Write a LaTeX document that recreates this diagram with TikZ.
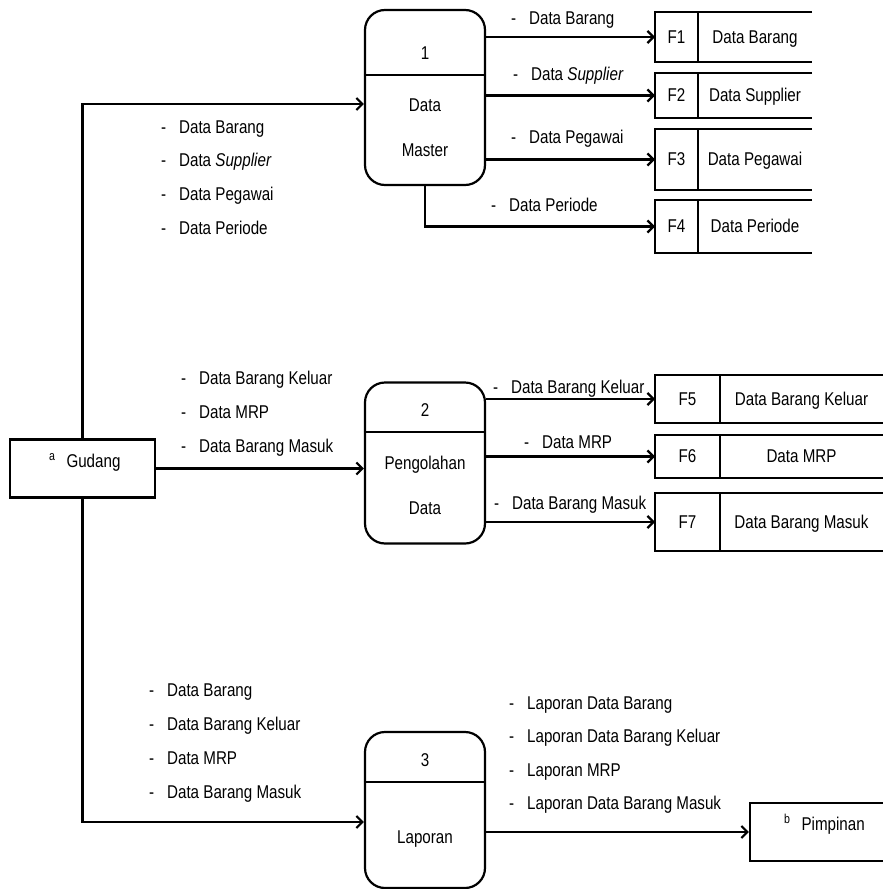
\documentclass[tikz,border=0pt]{standalone}
\usepackage{fontspec}
\setmainfont{Liberation Sans}[FakeStretch=0.82]
\usetikzlibrary{arrows.meta}
\newcommand{\itm}[1]{-\hspace{13pt}#1}

\begin{document}
\begin{tikzpicture}[x=1pt,y=-1pt,line width=2.2pt,
  font=\fontsize{18.5}{22}\selectfont,
  >={Straight Barb[length=6pt,width=12pt]},
  flow/.style={->},
  ext/.style={draw,inner sep=0},
  proc/.style={draw,rounded corners=20pt,minimum width=120pt,inner sep=0},
  ptxt/.style={inner sep=0,text height=12.5pt,text depth=0pt},
  lbl/.style={anchor=west,inner sep=0,text height=12.5pt,text depth=0pt}]
\useasboundingbox (0,0) rectangle (883,889);

% external entities
\node[ext,minimum width=145pt,minimum height=58pt] (gud) at (82.5,468.5) {};
\node[lbl] (gudt) at (48,461) {\textsuperscript{a}\hspace{11pt}Gudang};
\node[ext,minimum width=150pt,minimum height=58pt] (pim) at (825,832) {};
\node[lbl] (pimt) at (783,824) {\textsuperscript{b}\hspace{11pt}Pimpinan};

% processes
\node[proc,minimum height=175pt] (p1) at (425,97.5) {};
\node[proc,minimum height=161pt] (p2) at (425,463) {};
\node[proc,minimum height=156pt] (p3) at (425,810) {};
\draw (p1.west |- 0,75) -- (p1.east |- 0,75);
\draw (p2.west |- 0,432) -- (p2.east |- 0,432);
\draw (p3.west |- 0,782) -- (p3.east |- 0,782);
\node[ptxt] (p1id) at (425,53) {1};
\node[ptxt] (p1a) at (425,105) {Data};
\node[ptxt] (p1b) at (425,150) {Master};
\node[ptxt] (p2id) at (425,410) {2};
\node[ptxt] (p2a) at (425,463) {Pengolahan};
\node[ptxt] (p2b) at (425,508) {Data};
\node[ptxt] (p3id) at (425,760) {3};
\node[ptxt] (p3a) at (425,837) {Laporan};

% data stores (open on the right)
\foreach \n/\ya/\yb/\xd/\xr/\lab in {1/12/62/698/812/Data Barang,
    2/73/118/698/812/Data Supplier, 3/129/190/698/812/Data Pegawai,
    4/200/253/698/812/Data Periode, 5/375/423/720/883/Data Barang Keluar,
    6/435/478/720/883/Data MRP, 7/493/551/720/883/Data Barang Masuk}{
  \draw (\xr,\ya) -- (655,\ya) -- (655,\yb) -- (\xr,\yb) (\xd,\ya) -- (\xd,\yb);
  \coordinate (f\n) at (655,{(\ya+\yb)/2});
  \node[ptxt] (fid\n) at ({(655+\xd)/2},{(\ya+\yb)/2}) {F\n};
  \node[ptxt] (flab\n) at ({(\xd+\xr)/2},{(\ya+\yb)/2}) {\lab};
}

% flows
\draw[flow] (gud.north) |- ([yshift=-6.5pt]p1.west);
\draw[flow] (gud.east) -- (gud.east -| p2.west);
\draw[flow] (gud.south) |- ([yshift=-12pt]p3.west);
\foreach \n in {1,2,3}
  \draw[flow] (p1.east |- f\n) -- (f\n);
\draw[flow] (p1.south) |- (f4);
\foreach \n in {5,6,7}
  \draw[flow] (p2.east |- f\n) -- (f\n);
\draw[flow] (p3.east |- pim.west) -- (pim.west);

% flow labels
\foreach \t [count=\i from 0] in {Data Barang, Data \textit{Supplier}, Data Pegawai, Data Periode}
  \node[lbl] (in1-\i) at (160,127+33.7*\i) {\itm{\t}};
\foreach \t [count=\i from 0] in {Data Barang Keluar, Data MRP, Data Barang Masuk}
  \node[lbl] (in2-\i) at (180,378+34*\i) {\itm{\t}};
\foreach \t [count=\i from 0] in {Data Barang, Data Barang Keluar, Data MRP, Data Barang Masuk}
  \node[lbl] (in3-\i) at (148,690+34*\i) {\itm{\t}};
\foreach \t [count=\i from 0] in {Laporan Data Barang, Laporan Data Barang Keluar, Laporan MRP, Laporan Data Barang Masuk}
  \node[lbl] (out3-\i) at (508,703+33.5*\i) {\itm{\t}};
\node[lbl] (out1-1) at (510,18) {\itm{Data Barang}};
\node[lbl] (out1-2) at (512,74) {\itm{Data \textit{Supplier}}};
\node[lbl] (out1-3) at (510,137) {\itm{Data Pegawai}};
\node[lbl] (out1-4) at (490,205) {\itm{Data Periode}};
\node[lbl] (out2-1) at (492,387) {\itm{Data Barang Keluar}};
\node[lbl] (out2-2) at (523,442) {\itm{Data MRP}};
\node[lbl] (out2-3) at (493,503) {\itm{Data Barang Masuk}};
\end{tikzpicture}
\end{document}
